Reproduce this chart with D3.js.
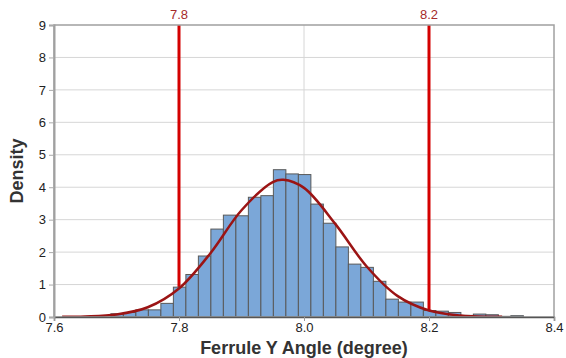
<!DOCTYPE html>
<html>
<head>
<meta charset="utf-8">
<script src="https://cdn.jsdelivr.net/npm/d3@7"></script>
<style>
  body { margin: 0; background: #fff; }
  svg { font-family: "Liberation Sans", Arial, sans-serif; }
</style>
</head>
<body>
<div id="viz"></div>
<script>

/* histogram of ferrule Y angle with normal fit and spec limits */

// histogram bins (left edge of first bin, bin width, density per bin)
const binStart = 7.691;
const binWidth = 0.02;
const densities = [0.10, 0.14, 0.22, 0.22, 0.42, 0.92, 1.31, 1.88, 2.71, 3.14,
                   3.12, 3.69, 3.74, 4.54, 4.41, 4.39, 3.48, 2.89, 2.16, 1.63,
                   1.53, 1.10, 0.55, 0.46, 0.46, 0.20, 0.18, 0.14, 0.05, 0.09,
                   0.07, 0.02, 0.04];

// fitted normal curve
const fitX = [7.613, 7.65, 7.70, 7.75, 7.80, 7.85, 7.90, 7.95, 7.967, 8.00,
              8.05, 8.10, 8.15, 8.20, 8.25, 8.30, 8.317];
const fitY = [0.004, 0.015, 0.077, 0.30, 0.88, 1.96, 3.29, 4.16, 4.23, 3.98,
              2.87, 1.565, 0.643, 0.20, 0.047, 0.008, 0.004];

// spec limits
const specLimits = [7.8, 8.2];
const specLabels = ["7.8", "8.2"];

// axis ticks
const xTicks = [7.6, 7.8, 8.0, 8.2, 8.4];
const xTickLabels = ["7.6", "7.8", "8.0", "8.2", "8.4"];
const yTicks = [0, 1, 2, 3, 4, 5, 6, 7, 8, 9];


const margin = { top: 25, right: 12, bottom: 41, left: 54 },
  width = 566 - margin.left - margin.right,
  height = 358 - margin.top - margin.bottom;

const svg = d3.select("#viz")
  .append("svg")
    .attr("width", 566)
    .attr("height", 358)
  .append("g")
    .attr("transform", `translate(${margin.left},${margin.top})`);

const x = d3.scaleLinear([7.6, 8.4], [0, width]);
const y = d3.scaleLinear([0, 9], [height, 0]);

// grid lines
svg.append("g")
  .selectAll("line")
  .data(yTicks.slice(1, -1))
  .join("line")
    .attr("x1", 0).attr("x2", width)
    .attr("y1", d => y(d)).attr("y2", d => y(d))
    .attr("stroke", "#d6d6d6");

svg.append("g")
  .selectAll("line")
  .data(xTicks.slice(1, -1))
  .join("line")
    .attr("x1", d => x(d)).attr("x2", d => x(d))
    .attr("y1", 0).attr("y2", height)
    .attr("stroke", "#d6d6d6");

// spec limit lines (behind the bars)
svg.append("g")
  .selectAll("line")
  .data(specLimits)
  .join("line")
    .attr("x1", d => x(d)).attr("x2", d => x(d))
    .attr("y1", 0).attr("y2", height)
    .attr("stroke", "#d40000")
    .attr("stroke-width", 3);

svg.append("g")
  .selectAll("text")
  .data(specLimits)
  .join("text")
    .attr("x", d => x(d))
    .attr("y", -6)
    .attr("text-anchor", "middle")
    .attr("font-size", 13)
    .attr("fill", "#a52a2a")
    .text((d, i) => specLabels[i]);

// bars
svg.append("g")
  .selectAll("rect")
  .data(densities)
  .join("rect")
    .attr("x", (d, i) => x(binStart + i * binWidth))
    .attr("width", x(binStart + binWidth) - x(binStart))
    .attr("y", d => y(d))
    .attr("height", d => y(0) - y(d))
    .attr("fill", "#7ba7d8")
    .attr("stroke", "#595959")
    .attr("stroke-width", 1);

// normal fit curve
const line = d3.line()
  .x((d, i) => x(fitX[i]))
  .y(d => y(d))
  .curve(d3.curveCatmullRom);

svg.append("path")
  .datum(fitY)
  .attr("d", line)
  .attr("fill", "none")
  .attr("stroke", "#9b1414")
  .attr("stroke-width", 2.5);

// frame
svg.append("rect")
  .attr("x", 0).attr("y", 0)
  .attr("width", width).attr("height", height)
  .attr("fill", "none")
  .attr("stroke", "#a0a0a0")
  .attr("stroke-width", 1.5);

// axes
const axisX = d3.axisBottom(x).tickValues(xTicks).tickFormat((d, i) => xTickLabels[i]).tickSize(4);
const axisY = d3.axisLeft(y).tickValues(yTicks).tickFormat(d3.format("d")).tickSize(5);

const gx = svg.append("g")
  .attr("transform", `translate(0,${height})`)
  .call(axisX);
gx.select(".domain").attr("stroke", "#555").attr("stroke-width", 1.5);
gx.selectAll(".tick line").attr("stroke", "#999");
gx.selectAll(".tick text").attr("font-size", 13).attr("fill", "#222").attr("dy", "0.6em");

const gy = svg.append("g")
  .call(axisY);
gy.select(".domain").attr("stroke", "#a0a0a0").attr("stroke-width", 2);
gy.selectAll(".tick line").attr("stroke", "#aaa");
gy.selectAll(".tick text").attr("font-size", 13).attr("fill", "#222").attr("x", -8);

// axis titles
svg.append("text")
  .attr("x", width / 2)
  .attr("y", height + 37)
  .attr("text-anchor", "middle")
  .attr("font-size", 18)
  .attr("font-weight", "bold")
  .attr("fill", "#333")
  .text("Ferrule Y Angle (degree)");

svg.append("text")
  .attr("transform", `translate(${-31},${height / 2}) rotate(-90)`)
  .attr("text-anchor", "middle")
  .attr("font-size", 18)
  .attr("font-weight", "bold")
  .attr("fill", "#333")
  .text("Density");

</script>
</body>
</html>
